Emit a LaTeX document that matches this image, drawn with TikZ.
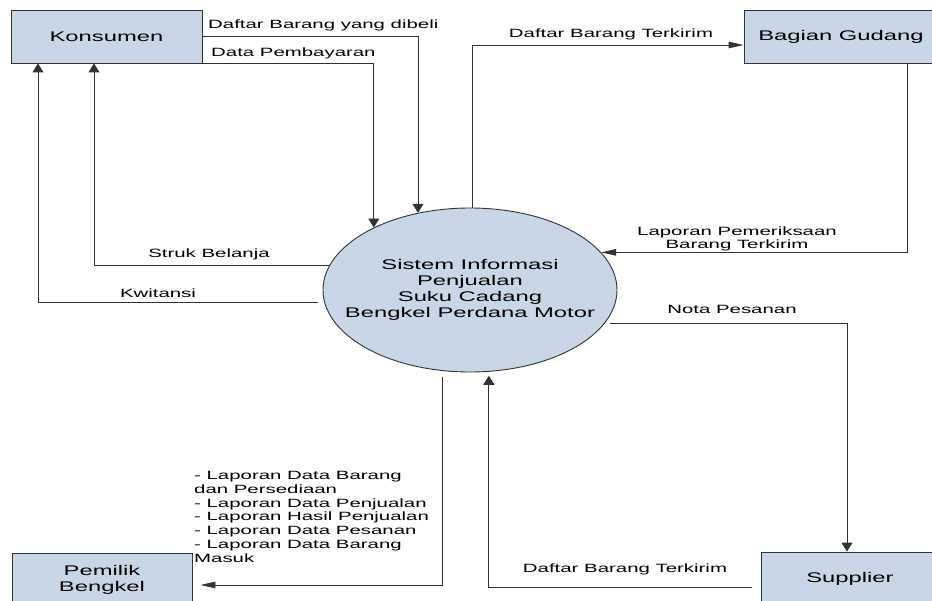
\documentclass[tikz,border=0pt]{standalone}
\usepackage{fontspec}
\setmainfont{Liberation Sans}[FakeStretch=1.7]
\usepackage{tikz}
\usetikzlibrary{arrows.meta}
\usetikzlibrary{shapes.geometric}
\definecolor{boxfill}{HTML}{C9D6E6}
\definecolor{linegray}{HTML}{333333}

\begin{document}
\begin{tikzpicture}[x=1pt, y=-1pt,
every node/.style = {color=black, align=center, inner sep=0pt},
entity/.style = {shape=rectangle, draw=linegray, line width=0.9pt, fill=boxfill,
  minimum height=53pt, font=\fontsize{14}{16}\selectfont},
process/.style = {shape=ellipse, draw=linegray, line width=0.9pt, fill=boxfill,
  minimum width=294pt, minimum height=164pt, inner xsep=-25pt,
  font=\fontsize{14}{16}\selectfont},
flowlabel/.style = {font=\fontsize{12}{13.8}\selectfont},
tipv/.style = {draw=linegray, line width=0.9pt, -{Triangle[length=9pt,width=11pt]}},
tiph/.style = {draw=linegray, line width=0.9pt, -{Triangle[length=15pt,width=6.5pt]}}
]
\useasboundingbox (0,0) rectangle (932,601);

% entities and the process
\node (konsumen) [entity, minimum width=191pt] at (106.5,36.5) {Konsumen};
\node (gudang) [entity, minimum width=194pt] at (841,36.5) {Bagian Gudang};
\node (supplier) [entity, minimum width=178pt] at (850,578.5) {Supplier};
\node (pemilik) [entity, minimum width=180pt] at (102,579.5) {Pemilik\\Bengkel};
\node (sistem) [process] at (470,290)
  {Sistem Informasi\\Penjualan\\Suku Cadang\\Bengkel Perdana Motor};

% flows
\draw [tipv] (konsumen.east) -| (sistem.124.71);
\draw [tipv] (konsumen.south east) -| (sistem.147.58);
\draw [tipv] (sistem.170.31) -| ([xshift=-12.5pt]konsumen.south);
\draw [tipv, shorten <=6pt] (sistem.185.93) -| ([xshift=-68.5pt]konsumen.south);
\draw [tiph] ([xshift=2pt]sistem.north) |- ([yshift=-8.5pt]gudang.west);
\draw [tiph] ([xshift=66pt]gudang.south) |- (sistem.16.26);
\draw [tipv, shorten <=5pt] (sistem.346.69) -| ([xshift=-3pt]supplier.north);
\draw [tipv, shorten <=9pt, shorten >=4pt] ([yshift=-8.5pt]supplier.west) -| (sistem.283.15);
\draw [tiph, shorten <=6pt, shorten >=8pt] (sistem.251.48) |- ([yshift=-5.5pt]pemilik.east);

% labels
\node (dibeli) [flowlabel, anchor=west] at (208,25) {Daftar Barang yang dibeli};
\node (bayar) [flowlabel, anchor=west] at (211,53) {Data Pembayaran};
\node (struk) [flowlabel] at (209,254) {Struk Belanja};
\node (kwitansi) [flowlabel] at (158,293) {Kwitansi};
\node (kirimgudang) [flowlabel] at (611,34) {Daftar Barang Terkirim};
\node (periksa) [flowlabel] at (737,239) {Laporan Pemeriksaan\\Barang Terkirim};
\node (nota) [flowlabel] at (732,309) {Nota Pesanan};
\node (kirimsupplier) [flowlabel] at (625,569) {Daftar Barang Terkirim};
\node (laporan) [flowlabel, anchor=north west, align=left] at (194,471)
  {- Laporan Data Barang\\dan Persediaan\\- Laporan Data Penjualan\\
   - Laporan Hasil Penjualan\\- Laporan Data Pesanan\\- Laporan Data Barang\\Masuk};

\end{tikzpicture}
\end{document}
